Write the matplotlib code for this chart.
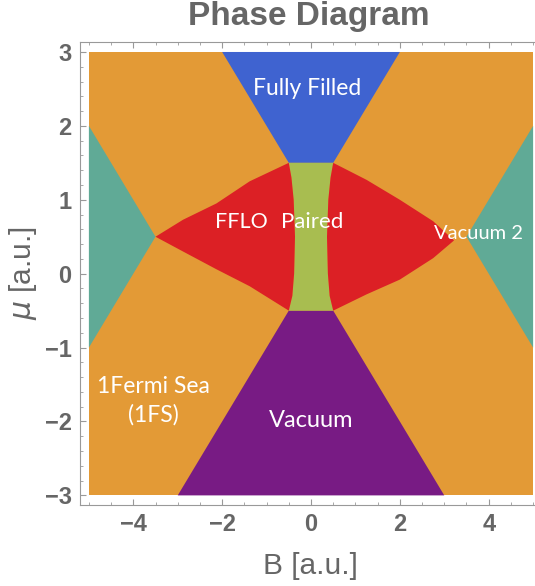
import numpy as np
import matplotlib
matplotlib.use('Agg')
import matplotlib.pyplot as plt
from matplotlib.ticker import MultipleLocator

# region colours
c_1fs = '#E39A36'
c_full = '#3F63D0'
c_vac = '#781B84'
c_vac2 = '#60AA96'
c_fflo = '#DC2025'
c_pair = '#A8BD50'

# phase boundaries (B, mu)
full_B = [-2.0, 2.0, 0.5, -0.5]
full_mu = [3.0, 3.0, 1.5, 1.5]

vac_B = [-3.0, 3.0, 0.5, -0.5]
vac_mu = [-3.0, -3.0, -0.5, -0.5]

vac2L_B = [-5.0, -3.5, -5.0]
vac2L_mu = [2.0, 0.5, -1.0]
vac2R_B = [5.0, 3.5, 5.0]
vac2R_mu = [2.0, 0.5, -1.0]

# paired strip: half width vs mu
pair_mu = [-0.5, -0.3, 0.0, 0.5, 1.0, 1.3, 1.5]
pair_w = [0.5, 0.42, 0.38, 0.36, 0.39, 0.44, 0.5]

# FFLO lenses: outer edges (tip -> top corner, bottom corner -> tip)
fflL_top_B = [-3.5, -2.88, -2.13, -1.38, -0.5]
fflL_top_mu = [0.5, 0.73, 0.95, 1.25, 1.5]
fflL_bot_B = [-0.5, -1.38, -2.13, -2.88, -3.5]
fflL_bot_mu = [-0.5, -0.17, 0.06, 0.30, 0.5]

fflR_top_B = [3.22, 2.75, 2.0, 1.25, 0.5]
fflR_top_mu = [0.45, 0.71, 1.0, 1.27, 1.5]
fflR_bot_B = [0.5, 1.25, 2.0, 2.75, 3.22]
fflR_bot_mu = [-0.5, -0.28, -0.08, 0.21, 0.45]

fig = plt.figure(figsize=(5.35, 5.86), dpi=100)
ax = fig.add_axes([80/535, 81/586, 462/535, 463/586])

ax.fill([-5, 5, 5, -5], [-3, -3, 3, 3], color=c_1fs, lw=0)
ax.fill(full_B, full_mu, color=c_full, lw=0)
ax.fill(vac_B, vac_mu, color=c_vac, lw=0)
ax.fill(vac2L_B, vac2L_mu, color=c_vac2, lw=0)
ax.fill(vac2R_B, vac2R_mu, color=c_vac2, lw=0)

pm = np.array(pair_mu)
pw = np.array(pair_w)
ax.fill(np.concatenate([-pw, pw[::-1]]), np.concatenate([pm, pm[::-1]]),
        color=c_pair, lw=0)

# left FFLO: top edge, down the paired edge, bottom edge
xL = np.concatenate([fflL_top_B, -pw[::-1], fflL_bot_B])
yL = np.concatenate([fflL_top_mu, pm[::-1], fflL_bot_mu])
ax.fill(xL, yL, color=c_fflo, lw=0)
xR = np.concatenate([fflR_top_B, pw[::-1], fflR_bot_B])
yR = np.concatenate([fflR_top_mu, pm[::-1], fflR_bot_mu])
ax.fill(xR, yR, color=c_fflo, lw=0)

lab = dict(color='white', family='Lato', ha='center', va='center')
ax.text(-0.08, 2.51, 'Fully Filled', fontsize=16.5, **lab)
ax.text(-1.57, 0.70, 'FFLO', fontsize=15.5, **lab)
ax.text(0.03, 0.70, 'Paired', fontsize=16, **lab)
ax.text(3.77, 0.54, 'Vacuum 2', fontsize=14.5, **lab)
ax.text(0.0, -1.98, 'Vacuum', fontsize=17, **lab)
ax.text(-3.54, -1.72, '1Fermi Sea\n(1FS)', fontsize=16.5, linespacing=1.35, **lab)

ax.set_xlim(-5.2, 5.2)
ax.set_ylim(-3.13, 3.135)

gray = '#666666'
for s in ax.spines.values():
    s.set_color('#999999')
    s.set_linewidth(0.8)

ax.xaxis.set_major_locator(MultipleLocator(2))
ax.xaxis.set_minor_locator(MultipleLocator(0.5))
ax.yaxis.set_major_locator(MultipleLocator(1))
ax.yaxis.set_minor_locator(MultipleLocator(0.2))
ax.tick_params(which='both', direction='in', top=True, right=False,
               color='#999999', labelcolor=gray, labelsize=17)
ax.tick_params(which='major', length=4, width=0.8, pad=6)
ax.tick_params(which='minor', length=2, width=0.6)
for t in ax.get_xticklabels() + ax.get_yticklabels():
    t.set_fontfamily('Liberation Sans')
    t.set_fontweight('bold')

plt.rcParams['mathtext.fontset'] = 'custom'
plt.rcParams['mathtext.it'] = 'Liberation Sans:italic'
ax.set_xlabel('B [a.u.]', fontsize=21.5, color=gray, family='Liberation Sans')
ax.set_ylabel(r'$\mathit{\mu}$ [a.u.]', fontsize=21.5, color=gray,
              family='Liberation Sans')
ax.yaxis.set_label_coords(-41/462, 0.5)
ax.xaxis.set_label_coords(230/462, -47/463)

fig.text(309/535, 1 - 16/586, 'Phase Diagram', fontsize=24, color=gray,
         family='Liberation Sans', fontweight='bold', ha='center', va='center')

fig.savefig('out.png', dpi=100)
